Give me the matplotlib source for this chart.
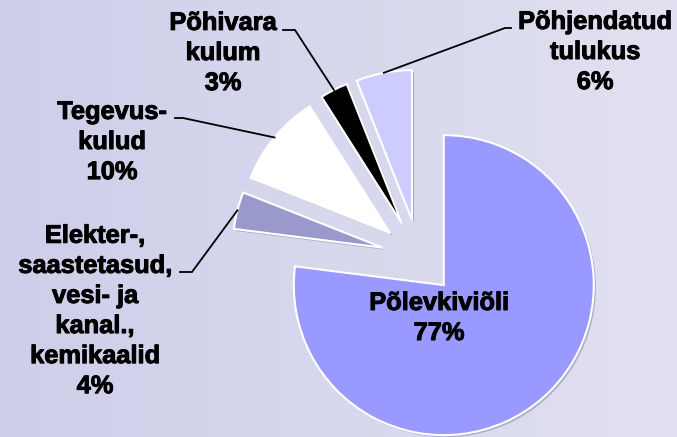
import numpy as np
import matplotlib
matplotlib.use('Agg')
import matplotlib.pyplot as plt
import matplotlib.patheffects as pe

# ===== DATA =====
LABELS = ["Põlevkiviõli", "Elekter-,\nsaastetasud,\nvesi- ja\nkanal.,\nkemikaalid",
          "Tegevus-\nkulud", "Põhivara\nkulum", "Põhjendatud\ntulukus"]
SHARES = [77, 4, 10, 3, 6]
COLORS = ["#9999ff", "#9999cc", "#ffffff", "#000000", "#ccccff"]

# ===== LAYOUT (pixels from top-left) =====
W, H = 677, 437
CENTER = (419, 257)
RADIUS = 150
EXPLODE = 37.5
LABEL_POS = [(439, 318), (95, 311), (112, 142), (223, 53), (595, 52)]
# leader: (elbow, horizontal end) ; None for inside label
LEADERS = [None, ((192, 272), (180, 272)), ((183, 118), (175, 118)),
           ((295, 30), (283, 30)), ((505, 28), (511, 28))]


def px(p):
    return (p[0], H - p[1])


fig = plt.figure(figsize=(W / 100, H / 100), dpi=100)

# background gradient
bg = fig.add_axes([0, 0, 1, 1])
left = np.array([206, 206, 234]) / 255
right = np.array([225, 225, 241]) / 255
t = np.linspace(0, 1, 256)[None, :, None]
grad = left[None, None, :] * (1 - t) + right[None, None, :] * t
bg.imshow(grad, aspect='auto', extent=[0, 1, 0, 1])
bg.axis('off')

ax = fig.add_axes([0, 0, 1, 1])
ax.patch.set_alpha(0)
wedges, _ = ax.pie(SHARES, colors=COLORS, startangle=90, counterclock=False,
                   explode=[EXPLODE] * len(SHARES), center=px(CENTER), radius=RADIUS,
                   wedgeprops={'edgecolor': 'white', 'linewidth': 1.5})
for w in wedges:
    w.set_path_effects([pe.SimplePatchShadow(offset=(1.5, -1.5), shadow_rgbFace='#555577', alpha=0.35),
                        pe.Normal()])

ax.set_xlim(0, W)
ax.set_ylim(0, H)
ax.set_aspect('equal')
ax.axis('off')

font = dict(family=['Liberation Sans', 'DejaVu Sans'], fontweight='bold', fontsize=18.3,
            ha='center', va='center', linespacing=1.32, color='black',
            path_effects=[pe.withStroke(linewidth=0.7, foreground='black')])

for w, lab, share, pos, lead in zip(wedges, LABELS, SHARES, LABEL_POS, LEADERS):
    ax.text(*px(pos), f"{lab}\n{share}%", **font)
    if lead is None:
        continue
    mid = np.deg2rad((w.theta1 + w.theta2) / 2)
    cx, cy = w.center
    tip = (cx + w.r * np.cos(mid), cy + w.r * np.sin(mid))
    e, h = px(lead[0]), px(lead[1])
    ax.plot([tip[0], e[0], h[0]], [tip[1], e[1], h[1]], color='black', lw=1.3,
            solid_joinstyle='miter')

plt.savefig("out.png", dpi=100)
